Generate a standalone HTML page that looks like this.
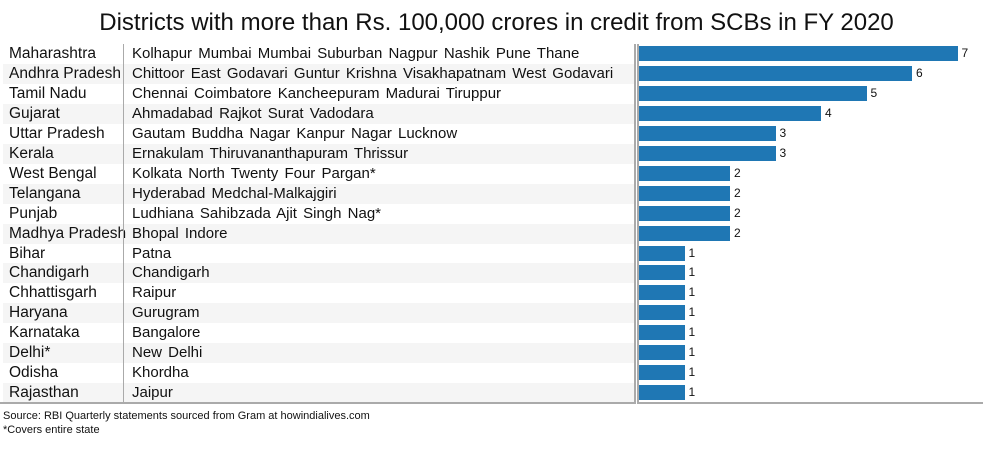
<!DOCTYPE html><html><head><style>
body{margin:0;width:983px;height:455px;background:#fff;font-family:"Liberation Sans",Arial,sans-serif;position:relative;overflow:hidden}
.t{position:absolute;top:9px;left:5px;width:983px;text-align:center;font-size:24px;color:#111}
.r{position:absolute;left:3px;height:20px;width:632px;font-size:15.5px;line-height:20px;color:#111}
.r.s{background:#f5f5f5}
.a{position:absolute;left:6px;white-space:nowrap}.b{position:absolute;left:129px;font-size:15px;word-spacing:2px;white-space:nowrap}
.bar{position:absolute;left:639px;height:15px;background:#1f77b4}
.v{position:absolute;font-size:12px;line-height:15px;color:#111}
.ft{position:absolute;left:3px;font-size:11px;color:#111}
</style></head><body>
<div class="t">Districts with more than Rs. 100,000 crores in credit from SCBs in FY 2020</div>
<div id="c"></div>
<div style="position:absolute;left:123px;top:44px;width:1px;height:360px;background:#aaa"></div>
<div style="position:absolute;left:634px;top:44px;width:2px;height:360px;background:#aaa"></div>
<div style="position:absolute;left:637px;top:44px;width:2px;height:360px;background:#aaa"></div>
<div style="position:absolute;left:0;top:402px;width:636px;height:2px;background:#aaa"></div>
<div style="position:absolute;left:637px;top:402px;width:346px;height:2px;background:#aaa"></div>
<div class="ft" style="top:410px">Source: RBI Quarterly statements sourced from Gram at howindialives.com</div>
<div class="ft" style="top:424px">*Covers entire state</div>
<script>
var d=[["Maharashtra","Kolhapur Mumbai Mumbai Suburban Nagpur Nashik Pune Thane",7],["Andhra Pradesh","Chittoor East Godavari Guntur Krishna Visakhapatnam West Godavari",6],["Tamil Nadu","Chennai Coimbatore Kancheepuram Madurai Tiruppur",5],["Gujarat","Ahmadabad Rajkot Surat Vadodara",4],["Uttar Pradesh","Gautam Buddha Nagar Kanpur Nagar Lucknow",3],["Kerala","Ernakulam Thiruvananthapuram Thrissur",3],["West Bengal","Kolkata North Twenty Four Pargan*",2],["Telangana","Hyderabad Medchal-Malkajgiri",2],["Punjab","Ludhiana Sahibzada Ajit Singh Nag*",2],["Madhya Pradesh","Bhopal Indore",2],["Bihar","Patna",1],["Chandigarh","Chandigarh",1],["Chhattisgarh","Raipur",1],["Haryana","Gurugram",1],["Karnataka","Bangalore",1],["Delhi*","New Delhi",1],["Odisha","Khordha",1],["Rajasthan","Jaipur",1]];
var h="";d.forEach(function(r,i){var y=44+i*19.95;var w=r[2]*45.5;
h+='<div class="r'+(i%2?' s':'')+'" style="top:'+y+'px"><span class="a">'+r[0]+'</span><span class="b">'+r[1]+'</span></div>';
h+='<div class="bar" style="top:'+(y+2)+'px;width:'+w+'px"></div><div class="v" style="top:'+(y+2)+'px;left:'+(639+w+4)+'px">'+r[2]+'</div>';});
document.getElementById("c").innerHTML=h;
</script></body></html>
